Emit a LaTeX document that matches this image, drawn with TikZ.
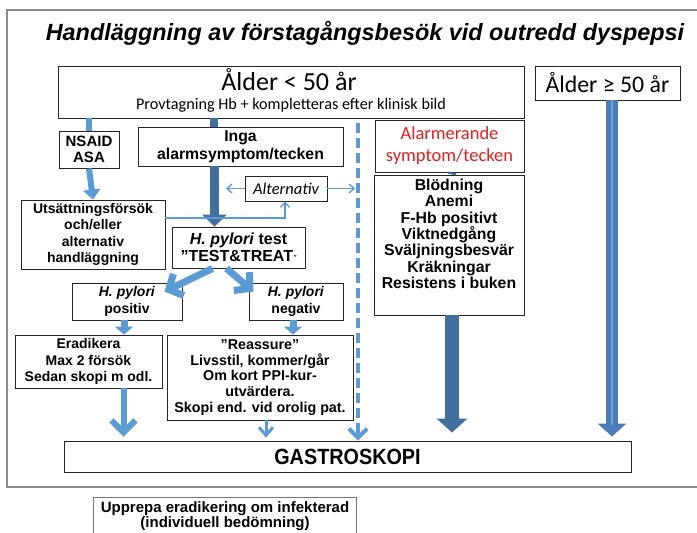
\documentclass[tikz,border=0pt]{standalone}
\usepackage{fontspec}
\setmainfont{Liberation Sans}
\newfontfamily\calibri{Carlito}
\usetikzlibrary{arrows.meta,calc}
\definecolor{lblue}{HTML}{5B9BD5}
\definecolor{dblue}{HTML}{41709F}
\definecolor{oblue}{HTML}{4A7DB6}
\definecolor{iblue}{HTML}{6FA3DA}
\definecolor{alarmred}{HTML}{E0201E}
\begin{document}
\begin{tikzpicture}[x=1pt,y=-1pt,
  box/.style={draw=black!85,line width=0.9pt,fill=white,inner sep=0pt,align=center,
    font=\bfseries\fontsize{14}{16.3}\selectfont},
  txt/.style={inner sep=0pt,align=center,font=\bfseries\fontsize{14}{16.3}\selectfont},
  lightarrow/.style={draw=lblue,line width=6pt,-{Triangle[length=10pt,width=17pt]}},
  chevron/.style={draw=lblue,line width=6pt,-{Straight Barb[length=12pt,width=24pt]}},
  thinarrow/.style={draw=lblue,line width=1.3pt,-{Straight Barb[length=5pt,width=9pt]}},
  darkarrow/.style={draw=dblue,line width=9pt,-{Triangle[length=12pt,width=24pt]}},
]
\useasboundingbox (0,0) rectangle (697,533);
\fill[white] (0,0) rectangle (697,533);
% outer frame
\draw[black!45,line width=1.5pt] (710,10) -- (7,10) -- (7,487) -- (710,487);
% title
\node[inner sep=0pt,font=\bfseries\itshape\fontsize{23.4}{26}\selectfont] (title) at (365,33) {Handläggning av förstagångsbesök vid outredd dyspepsi};

% boxes
\node[box,minimum width=466pt,minimum height=52pt] (young) at (291,92) {};
\node[inner sep=0pt,font=\calibri\fontsize{26}{28}\selectfont] (youngt) at (289,80) {Ålder < 50 år};
\node[inner sep=0pt,font=\calibri\fontsize{16.2}{18}\selectfont] (youngs) at (291,105.5) {Provtagning Hb + kompletteras efter klinisk bild};

\node[box,minimum width=145pt,minimum height=34pt,font=\calibri\fontsize{23.8}{26}\selectfont] (old) at (607.5,83) {Ålder ≥ 50 år};

\node[box,minimum width=149pt,minimum height=52pt,text=alarmred,font=\calibri\fontsize{18.5}{22}\selectfont] (alarm) at (449.5,146) {Alarmerande\\symptom/tecken};

\node[box,minimum width=150pt,minimum height=140pt] (signs) at (449,245) {};
\node[txt,anchor=north,font=\bfseries\fontsize{15.8}{16.3}\selectfont] (signst) at (449,179) {Blödning\\Anemi\\F-Hb positivt\\Viktnedgång\\Sväljningsbesvär\\Kräkningar\\Resistens i buken};

\node[box,minimum width=60pt,minimum height=37pt,font=\bfseries\fontsize{15}{16.3}\selectfont] (nsaid) at (89,149.5) {NSAID\\ASA};
\node[box,minimum width=144pt,minimum height=69pt] (uts) at (93,234.5) {Utsättningsförsök\\och/eller\\alternativ\\handläggning};
\node[box,minimum width=205pt,minimum height=39pt,font=\bfseries\fontsize{15.8}{18}\selectfont] (inga) at (240.5,146.5) {Inga\\alarmsymptom/tecken};
\node[box,minimum width=82pt,minimum height=25pt,font=\calibri\itshape\fontsize{16.5}{18}\selectfont] (altern) at (286,188.5) {Alternativ};
\node[box,minimum width=133pt,minimum height=41pt,font=\bfseries\fontsize{16}{17}\selectfont] (test) at (238.5,247.5) {\textit{H. pylori} test\\”TEST\&TREAT\textit{\mdseries\small ”}};
\node[box,minimum width=110pt,minimum height=37pt] (pos) at (127,301.5) {\textit{H. pylori}\\positiv};
\node[box,minimum width=94pt,minimum height=37pt] (neg) at (296,301.5) {\textit{H. pylori}\\negativ};
\node[box,minimum width=147pt,minimum height=53pt] (erad) at (88.5,361.5) {Eradikera\\Max 2 försök\\Sedan skopi m odl.};
\node[box,minimum width=186pt,minimum height=85pt,font=\bfseries\fontsize{14.3}{15.8}\selectfont] (reass) at (260,377.5) {”Reassure”\\Livsstil, kommer/går\\Om kort PPI-kur-\\utvärdera.\\Skopi end. vid orolig pat.};
\node[box,minimum width=567pt,minimum height=31pt,font=\bfseries\fontsize{22}{24}\selectfont] (gastro) at (347.5,456.5) {\addfontfeature{FakeStretch=0.9}GASTROSKOPI};

\node[box,draw=black!55,minimum width=263pt,minimum height=50pt] (upp) at (224.5,522) {};
\node[txt,font=\bfseries\fontsize{15}{15.5}\selectfont] (uppt) at (225,516) {Upprepa eradikering om infekterad\\(individuell bedömning)};

% connectors
\draw[draw=lblue,line width=6pt] (young.south -| nsaid.north) -- (nsaid.north);
\draw[lightarrow] (nsaid.south) -- (uts.north);
\draw[draw=dblue,line width=8pt] ([xshift=-27pt]inga.north |- young.south) -- ([xshift=-27pt]inga.north);
\draw[darkarrow] ([xshift=-26pt]inga.south) -- ([xshift=-26pt]inga.south |- test.north);
\draw[draw=dblue,line width=8pt] ([xshift=3pt]alarm.south) -- ([xshift=3pt]signs.north);
\draw[darkarrow,line width=14pt,-{Triangle[length=14pt,width=30pt]}] ([xshift=3pt]signs.south) -- ([xshift=3pt,yshift=8pt]signs.south |- gastro.north);
% age >= 50
\coordinate (oldend) at ([xshift=4.5pt,yshift=4pt]old.south |- gastro.north);
\draw[draw=oblue,line width=12pt,-{Triangle[length=13pt,width=28pt]}] ([xshift=4.5pt]old.south) -- (oldend);
\draw[draw=iblue,line width=2.5pt,shorten >=12pt] ([xshift=4.5pt]old.south) -- (oldend);
% dashed
\coordinate (dashstart) at (358,123);
\draw[draw=lblue,line width=4pt,dash pattern=on 10pt off 5pt] (dashstart) -- (358,428);
\draw[draw=lblue,line width=4pt,-{Straight Barb[length=9pt,width=18pt]}] (358,428) -- (dashstart |- gastro.north);
% alternativ
\coordinate (altl) at (226,188.5);
\coordinate (altr) at (355,188.5);
\draw[thinarrow] (altern.west) -- (altl);
\draw[thinarrow] (altern.east) -- (altr);
\draw[thinarrow] (uts.east |- 0,218) -- (285,218) -- (altern.south -| 285,0);
% test -> pos/neg
\draw[chevron,line width=7pt,-{Straight Barb[length=11pt,width=24pt]}] ([xshift=-26pt]test.south) -- ([xshift=-18pt,yshift=-9pt]pos.north east);
\draw[chevron,line width=7pt,-{Straight Barb[length=11pt,width=24pt]}] ([xshift=-12pt]test.south) -- ([xshift=5pt,yshift=-9pt]neg.north west);
\draw[lightarrow,line width=7pt,-{Triangle[length=8pt,width=18pt]}] ([xshift=-3pt]pos.south) -- ([xshift=-3pt]pos.south |- erad.north);
\draw[lightarrow,line width=7pt,-{Triangle[length=8pt,width=18pt]}] ([xshift=-3pt]neg.south) -- ([xshift=-3pt]neg.south |- reass.north);
% to gastroskopi
\draw[chevron] ([xshift=35pt]erad.south) -- ([xshift=35pt,yshift=4pt]erad.south |- gastro.north);
\draw[chevron,line width=3pt,-{Straight Barb[length=8pt,width=14pt]}] ([xshift=6pt]reass.south) -- ([xshift=6pt,yshift=3pt]reass.south |- gastro.north);
\end{tikzpicture}
\end{document}
